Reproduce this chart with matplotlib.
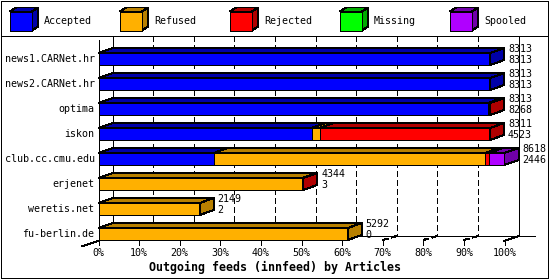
import matplotlib
matplotlib.use("Agg")
import matplotlib.pyplot as plt
from matplotlib.patches import Rectangle, Polygon

# Datos de innfeed (artículos por peer)
feeds = ['news1.CARNet.hr', 'news2.CARNet.hr', 'optima', 'iskon',
         'club.cc.cmu.edu', 'erjenet', 'weretis.net', 'fu-berlin.de']
offered = [8313, 8313, 8313, 8311, 8618, 4344, 2149, 5292]
accepted = [8313, 8313, 8268, 4523, 2446, 3, 2, 0]
refused = [0, 0, 0, 170, 5758, 4331, 2147, 5292]
rejected = [0, 0, 45, 3618, 85, 10, 0, 0]
missing = [0, 0, 0, 0, 0, 0, 0, 0]
spooled = [0, 0, 0, 0, 329, 0, 0, 0]

series_names = ['Accepted', 'Refused', 'Rejected', 'Missing', 'Spooled']
series = [accepted, refused, rejected, missing, spooled]
front_colors = ['#0000ff', '#ffb000', '#ff0000', '#00ff00', '#b000ff']
dark_colors = ['#0000a8', '#b88000', '#b00000', '#00a800', '#7000a8']
xticks = list(range(0, 101, 10))
title = 'Outgoing feeds (innfeed) by Articles'

plt.rcParams['font.family'] = ['DejaVu Sans Mono']
plt.rcParams['lines.scale_dashes'] = False
FS = 7.2
LW = 0.72

fig = plt.figure(figsize=(5.5, 2.8), dpi=100)

# Eje de fondo en píxeles para el marco y la leyenda
bg = fig.add_axes([0, 0, 1, 1])
bg.set_xlim(0, 550)
bg.set_ylim(280, 0)
bg.axis('off')
bg.add_patch(Rectangle((1, 1), 547, 277, fill=False, ec='black', lw=LW, antialiased=False))
bg.plot([1, 548], [36, 36], color='black', lw=LW, antialiased=False)

# Leyenda con cubitos
for k, name in enumerate(series_names):
    x0 = 10 + 110 * k
    bg.add_patch(Polygon([(x0, 11.5), (x0 + 22, 11.5), (x0 + 28, 7.5), (x0 + 6, 7.5)],
                         fc=dark_colors[k], ec='black', lw=LW, antialiased=False))
    bg.add_patch(Polygon([(x0 + 22, 11.5), (x0 + 28, 7.5), (x0 + 28, 26.5), (x0 + 22, 30.5)],
                         fc=dark_colors[k], ec='black', lw=LW, antialiased=False))
    bg.add_patch(Rectangle((x0, 11.5), 22, 19, fc=front_colors[k], ec='black', lw=LW,
                           antialiased=False))
    bg.text(x0 + 34, 21, name, fontsize=FS, va='center', ha='left')

# Eje principal: plano frontal, x en % del máximo ofrecido
ax = fig.add_axes([98.5 / 550, (280 - 241) / 280, 406 / 550, 201 / 280])
ax.set_xlim(0, 100)
ax.set_ylim(7.28, -0.76)
ax.axis('off')

PX = 4.06            # píxeles por %
DX = 14 / PX         # profundidad en x
DY = 5 / 25          # profundidad en y (filas)
H = 6 / 25           # media altura de barra
floor_front = 7.28
floor_back = floor_front - DY
top_row = -0.92
maxv = max(offered)

kw = dict(color='black', lw=LW, clip_on=False, antialiased=False, zorder=1)
dash = dict(color='black', lw=LW, clip_on=False, antialiased=False, dashes=(4, 2.2), zorder=1)
pkw = dict(ec='black', lw=LW, clip_on=False, antialiased=False, zorder=3)

# Pared del fondo y rejilla
ax.plot([DX, DX], [top_row, floor_back], **kw)
ax.plot([100 + DX, 100 + DX], [top_row, floor_back], **kw)
for p in xticks[1:-1]:
    ax.plot([p + DX, p + DX], [top_row, floor_back], **dash)
    ax.plot([p, p + DX], [floor_front - 1 / 25, floor_back], **dash)
ax.plot([DX, 100 + DX + 16 / PX], [floor_back, floor_back], **kw)
ax.plot([100, 100 + DX], [floor_front, floor_back], **kw)
ax.plot([-16 / PX, 0], [floor_front + DY, floor_front], **kw)
ax.plot([0, 0], [-0.76, floor_front], **kw)

# Ticks y etiquetas del eje x
for p in xticks:
    ax.plot([p, p], [floor_front, floor_front + 4 / 25], **kw)
    ax.text(p, floor_front + 0.5, f'{p}%', fontsize=FS, ha='center', va='center')

# Barras apiladas en pseudo-3D
for i, feed in enumerate(feeds):
    y0, y1 = i - H, i + H
    left = 0
    last = None
    for k, vals in enumerate(series):
        if vals[i] <= 0:
            continue
        w = vals[i] / maxv * 100
        ax.add_patch(Polygon([(left, y0), (left + w, y0), (left + w + DX, y0 - DY), (left + DX, y0 - DY)],
                             fc=dark_colors[k], **pkw))
        ax.add_patch(Rectangle((left, y0), w, 2 * H, fc=front_colors[k], **pkw))
        left += w
        last = k
    ax.add_patch(Polygon([(left, y0), (left + DX, y0 - DY), (left + DX, y1 - DY), (left, y1)],
                         fc=dark_colors[last], **pkw))
    ax.text(-4 / PX, i, feed, fontsize=FS, ha='right', va='center')
    xl = left + DX + 4 / PX
    ax.text(xl, i - 9.5 / 25, str(offered[i]), fontsize=FS, ha='left', va='center')
    ax.text(xl, i + 1.5 / 25, str(accepted[i]), fontsize=FS, ha='left', va='center')

fig.text(0.5, 13 / 280, title, fontsize=8.4, fontweight='bold', ha='center', va='center')

fig.savefig('out.png', dpi=100)
